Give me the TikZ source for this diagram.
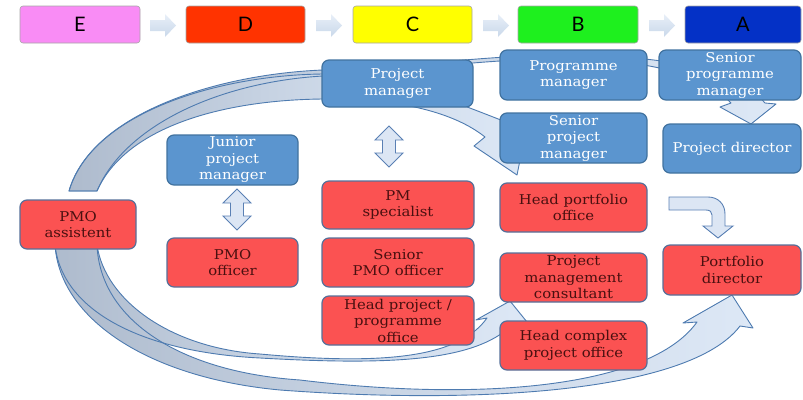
\documentclass[tikz,border=0pt]{standalone}
\usepackage{fontspec}
\setmainfont{DejaVu Serif}
\newfontfamily\cardface{DejaVu Serif}[FakeStretch=1.1]
\newfontfamily\tierfont{Lato}
\newcommand\cardfont{\cardface\fontsize{13.5}{16.5}\selectfont}

\definecolor{tierE}{HTML}{F98CF5}
\definecolor{tierD}{HTML}{FF3300}
\definecolor{tierC}{HTML}{FFFF00}
\definecolor{tierB}{HTML}{1EF01E}
\definecolor{tierA}{HTML}{0431C6}
\definecolor{roleblue}{HTML}{5B95CF}
\definecolor{roleblueline}{HTML}{41729F}
\definecolor{rolered}{HTML}{FB5252}
\definecolor{roleredline}{HTML}{56709A}
\definecolor{roleredtext}{HTML}{4A1010}
\definecolor{bandgray}{HTML}{AEBBCD}
\definecolor{bandlight}{HTML}{DDE8F6}
\definecolor{bandline}{HTML}{4E7BB0}
\definecolor{stepfill}{HTML}{DCE6F4}
\definecolor{stepline}{HTML}{5A80B4}
\definecolor{chevtop}{HTML}{E8EFF8}
\definecolor{chevbot}{HTML}{C9D8EA}

\tikzset{
  tier/.style={draw=black!35, line width=0.6pt, rounded corners=3pt,
    minimum height=37pt, inner sep=0pt, font=\tierfont\fontsize{20}{20}\selectfont},
  card/.style={line width=1.2pt, rounded corners=7pt, inner sep=0pt,
    align=center, font=\cardfont},
  bluecard/.style={card, draw=roleblueline, fill=roleblue, text=white},
  redcard/.style={card, draw=roleredline, fill=rolered, text=roleredtext},
  bandfill/.style={left color=bandgray, right color=bandlight, middle color=bandgray!40!bandlight},
  bandedge/.style={draw=bandline, line width=0.9pt, line join=round},
  blockarrow/.style={fill=stepfill, draw=stepline, line width=0.9pt, line join=miter},
  chevron/.pic={
    \path[top color=chevtop, bottom color=chevbot]
      (0,-5.5) -- (15,-5.5) -- (15,-11.5) -- (26,0) -- (15,11.5) -- (15,5.5) -- (0,5.5) -- cycle;
  },
  twoway/.pic={
    \path[blockarrow]
      (0,0) -- (14,14) -- (6.5,14) -- (6.5,27) -- (14,27) -- (0,41)
      -- (-14,27) -- (-6.5,27) -- (-6.5,14) -- (-14,14) -- cycle;
  }
}

% outlines of the four career bands, reused for fill and for edges
\newcommand\bandtoDirector{(69,191) .. controls (92,112) and (220,74) .. (323,70)
  .. controls (420,66) and (480,56) .. (560,55)
  .. controls (660,55) and (735,68) .. (765,103) -- (776,104) -- (751,124)
  -- (720,107) -- (731,103) .. controls (705,75) and (650,59) .. (560,59)
  .. controls (480,59) and (420,70) .. (323,76)
  .. controls (220,82) and (125,125) .. (97,191) -- cycle}
\newcommand\bandtoSeniorPM{(69,191) .. controls (92,112) and (220,75) .. (323,74)
  .. controls (380,74) and (420,88) .. (516,126) -- (528,121) -- (517,175)
  -- (474,146) -- (485,137) .. controls (455,113) and (400,98) .. (323,99)
  .. controls (220,100) and (125,128) .. (97,191) -- cycle}
\newcommand\bandtoPortfolio{(55,245) .. controls (60,320) and (150,378) .. (280,390)
  .. controls (480,405) and (690,392) .. (740,326) -- (753,328) -- (732,295)
  -- (683,323) -- (697,322) .. controls (650,388) and (480,402) .. (300,380)
  .. controls (180,372) and (100,320) .. (97,245) -- cycle}
\newcommand\bandtoConsultant{(55,245) .. controls (62,310) and (140,352) .. (260,358)
  .. controls (400,366) and (480,360) .. (515,322) -- (527,322) -- (510,301)
  -- (476,320) -- (487,318) .. controls (460,356) and (390,366) .. (260,354)
  .. controls (170,348) and (105,300) .. (97,245) -- cycle}

\begin{document}
\begin{tikzpicture}[x=1pt,y=-1pt]
\useasboundingbox (0,0) rectangle (803,399);

% tier headers
\node[tier, fill=tierE, minimum width=120pt] (tE) at (80,24.5) {E};
\node[tier, fill=tierD, minimum width=119pt] (tD) at (245.5,24.5) {D};
\node[tier, fill=tierC, minimum width=119pt] (tC) at (412.5,24.5) {C};
\node[tier, fill=tierB, minimum width=120pt] (tB) at (578,24.5) {B};
\node[tier, fill=tierA, minimum width=116pt] (tA) at (743,24.5) {A};

\pic at (150,25.5) {chevron};
\pic at (316,25.5) {chevron};
\pic at (483,25.5) {chevron};
\pic at (649,25.5) {chevron};

% career bands
\path[bandfill] \bandtoDirector;
\path[bandfill] \bandtoSeniorPM;
\path[bandfill] \bandtoPortfolio;
\path[bandfill] \bandtoConsultant;
\path[bandedge] \bandtoDirector;
\path[bandedge] \bandtoSeniorPM;
\path[bandedge] \bandtoPortfolio;
\path[bandedge] \bandtoConsultant;

% role cards, project side (blue)
\node[bluecard, minimum width=151pt, minimum height=47pt] (pm) at (397.5,83.5) {Project\\manager};
\node[bluecard, minimum width=147pt, minimum height=50pt] (prog) at (573.5,75) {Programme\\manager};
\node[bluecard, minimum width=142pt, minimum height=50pt] (sprog) at (730,75) {Senior\\programme\\manager};
\node[bluecard, minimum width=147pt, minimum height=50pt] (spm) at (573.5,138) {Senior\\project\\manager};
\node[bluecard, minimum width=138pt, minimum height=49pt] (pdir) at (732,148.5) {Project director};
\node[bluecard, minimum width=131pt, minimum height=50pt] (jpm) at (232.5,160) {Junior\\project\\manager};

% role cards, office side (red)
\node[redcard, minimum width=116pt, minimum height=49pt] (pmoa) at (78,224.5) {PMO\\assistent};
\node[redcard, minimum width=131pt, minimum height=49pt] (pmoo) at (232.5,262.5) {PMO\\officer};
\node[redcard, minimum width=152pt, minimum height=48pt] (pmspec) at (398,205) {PM\\specialist};
\node[redcard, minimum width=152pt, minimum height=49pt] (spmo) at (398,262.5) {Senior\\PMO officer};
\node[redcard, minimum width=152pt, minimum height=49pt] (hpo) at (398,320.5) {Head project /\\programme\\office};
\node[redcard, minimum width=147pt, minimum height=49pt] (hport) at (573.5,207.5) {Head portfolio\\office};
\node[redcard, minimum width=147pt, minimum height=49pt] (pmc) at (573.5,277.5) {Project\\management\\consultant};
\node[redcard, minimum width=147pt, minimum height=49pt] (hcpo) at (573.5,345.5) {Head complex\\project office};
\node[redcard, minimum width=138pt, minimum height=50pt] (pfdir) at (732,270) {Portfolio\\director};

% two-way links
\pic at (237,189) {twoway};
\pic at (389,126) {twoway};

% bent arrow from head portfolio office towards portfolio director
\path[blockarrow] (669,197) -- (708,197) .. controls (718,197) and (725,204) .. (725,214)
  -- (725,226) -- (733,226) -- (718,238) -- (703,226) -- (712,226) -- (712,215)
  .. controls (712,212) and (710,210) .. (706,210) -- (669,210) -- cycle;

\end{tikzpicture}
\end{document}
